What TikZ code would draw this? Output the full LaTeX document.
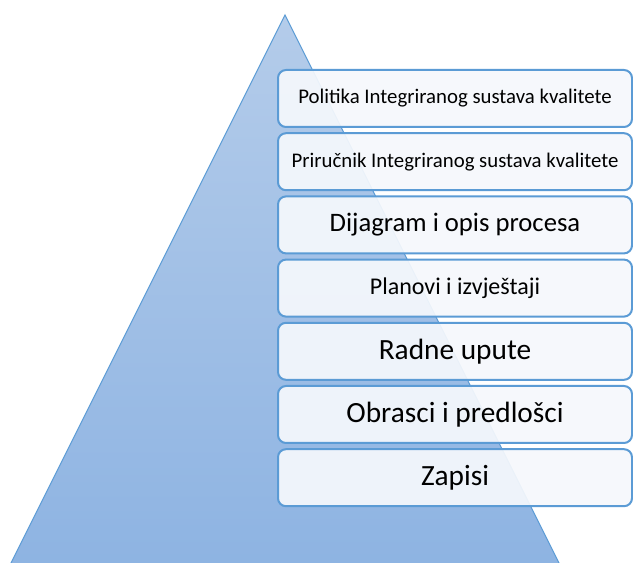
\documentclass[tikz,border=0pt]{standalone}
\usepackage{fontspec}
\setmainfont{Carlito}
\usepackage{tikz}

\tikzset{
  levelbox/.style={draw={rgb, 255:red, 91; green, 155; blue, 213 }, line width=1.5pt, rounded corners=6pt,
    fill={rgb, 255:red, 245; green, 248; blue, 252 }, fill opacity=0.93, text opacity=1,
    minimum width=265.5pt, minimum height=42.75pt, inner sep=0.75pt, font=\fontsize{15.6}{19}\selectfont},
  midtext/.style={font=\fontsize{18}{22}\selectfont},
  largetext/.style={font=\fontsize{20}{24}\selectfont},
  bigtext/.style={font=\fontsize{22}{26}\selectfont}
}

\begin{document}
\begin{tikzpicture}[x=0.75pt,y=0.75pt,yscale=-1,xscale=1]
        \useasboundingbox (0,0) rectangle (633,563);

        %Shape: Triangle [id:pyramid]
        \begin{scope}
        \clip (0,0) rectangle (633,563);
        \draw  [draw={rgb, 255:red, 91; green, 155; blue, 213 }  ,line width=0.75, top color={rgb, 255:red, 180; green, 204; blue, 234 }, bottom color={rgb, 255:red, 141; green, 179; blue, 226 } ] (285,15) -- (565,575) -- (5,575) -- cycle ;
        \end{scope}

        % Text Node
        \node [levelbox] (politika) at (455,98.5) {Politika Integriranog sustava kvalitete};
        % Text Node
        \node [levelbox] (prirucnik) at (455,161.7) {Priručnik Integriranog sustava kvalitete};
        % Text Node
        \node [levelbox, largetext] (dijagram) at (455,224.9) {Dijagram i opis procesa};
        % Text Node
        \node [levelbox, midtext] (planovi) at (455,288.1) {Planovi i izvještaji};
        % Text Node
        \node [levelbox, bigtext] (upute) at (455,351.3) {Radne upute};
        % Text Node
        \node [levelbox, bigtext] (obrasci) at (455,414.5) {Obrasci i predlošci};
        % Text Node
        \node [levelbox, bigtext] (zapisi) at (455,477.7) {Zapisi};

    \end{tikzpicture}
\end{document}
